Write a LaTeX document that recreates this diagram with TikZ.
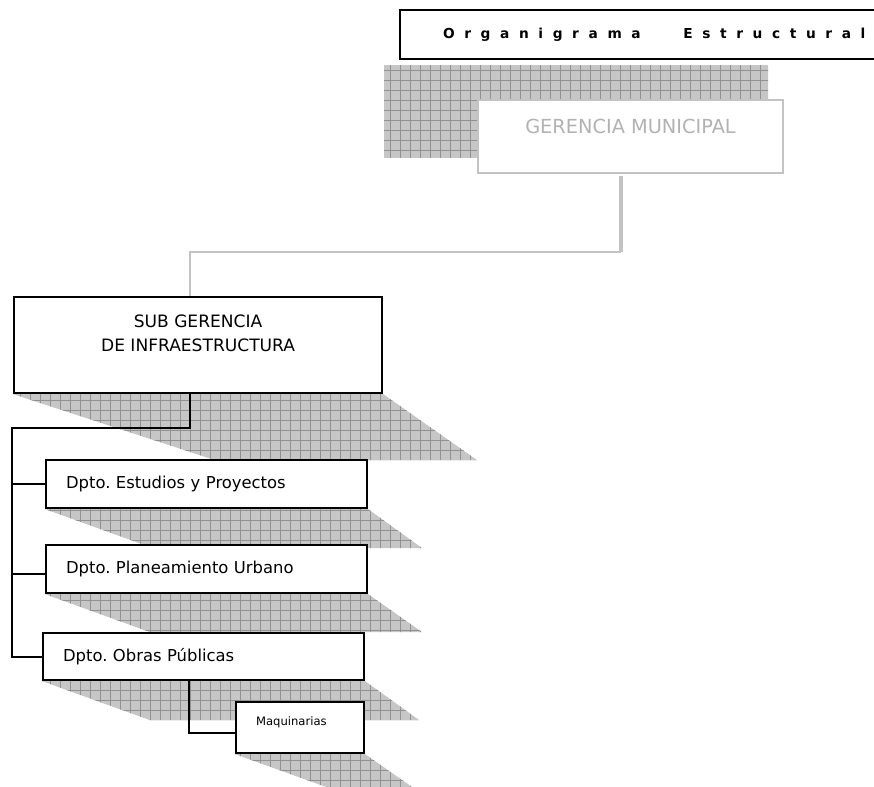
\documentclass[tikz,border=0pt]{standalone}
\usepackage{fontspec}
\setmainfont{DejaVu Sans}
\newfontfamily\titulofont[LetterSpace=70]{DejaVu Sans}
\usetikzlibrary{positioning,calc,backgrounds}
\frenchspacing

\definecolor{sombrafondo}{RGB}{198,198,198}
\definecolor{sombralinea}{RGB}{145,145,145}
\definecolor{gerenciagris}{RGB}{195,195,195}
\definecolor{gerenciatexto}{RGB}{178,178,178}

\tikzset{
  caja/.style={draw=black, line width=1.6pt, fill=white, anchor=north west, inner sep=0pt},
  depto/.style={caja, minimum width=240.75pt, minimum height=36pt, text width=210.75pt,
    inner xsep=15pt, align=left, font=\fontsize{12.3}{15}\selectfont},
  conector/.style={line width=1.4pt, black},
  gerlinea/.style={gerenciagris},
}

% hatched shadow behind a box
\newcommand{\sombra}[1]{%
  \begin{scope}
    \clip #1;
    \fill[sombrafondo] (0,0) rectangle (874,787);
    \draw[sombralinea, line width=0.5pt, step=7.5pt] (0,0) grid (874,787);
  \end{scope}}

\begin{document}
\begin{tikzpicture}[x=0.75pt, y=-0.75pt]
    \useasboundingbox (0,0) rectangle (874,787);

    % Title
    \node[caja, minimum width=368.25pt, minimum height=36.75pt, text width=303.75pt,
      inner xsep=32.25pt, align=left, font=\fontsize{10.3}{12}\selectfont] (tit) at (399,9)
      {\titulofont\bfseries Organigrama\hspace{32pt}Estructural};

    % Boxes
    \node[caja, draw=gerenciagris, line width=1.5pt, minimum width=228.75pt, minimum height=54.75pt,
      align=center, text=gerenciatexto, font=\fontsize{14.5}{16}\selectfont] (ger) at (477,99)
      {GERENCIA MUNICIPAL\\\mbox{}};
    \node[caja, minimum width=276pt, minimum height=72pt, align=center,
      font=\fontsize{12.8}{18}\selectfont] (sg) at (13,296)
      {SUB GERENCIA\\DE INFRAESTRUCTURA\\\mbox{}};
    \node[depto] (ep) at (45,459) {Dpto. Estudios y Proyectos};
    \node[depto] (pu) at (45,544) {Dpto. Planeamiento Urbano};
    \node[depto, minimum height=35.25pt] (op) at (42,632) {Dpto. Obras Públicas};
    \node[caja, minimum width=96pt, minimum height=38.25pt, text width=66pt, inner xsep=15pt,
      align=left, font=\fontsize{8.7}{9}\selectfont] (maq) at (235,701) {Maquinarias\\\mbox{}};

    % Shadows
    \begin{pgfonlayer}{background}
        \sombra{($(ger.north west)+(-93,-33)$) rectangle ($(ger.south east)+(-16,-16)$)}
        \sombra{(sg.south west) -- (sg.south east) -- ++(94,66) -- ($(sg.south west)+(202,66)$) -- cycle}
        \foreach \c/\dx/\dy in {ep/108/39, pu/105/38, op/108/39} {
            \sombra{(\c.south west) -- (\c.south east) -- ++(54,\dy) -- ($(\c.south west)+(\dx,\dy)$) -- cycle}
        }
        \sombra{(maq.south west) -- (maq.south east) -- ++(50,35) -- ($(maq.south west)+(97,35)$) -- cycle}
    \end{pgfonlayer}

    % Connectors
    \coordinate (bajada) at ($(ger.south west)+(144,2)$);
    \draw[gerlinea, line width=3pt] (bajada) -- ++(0,76) coordinate (codo);
    \draw[gerlinea, line width=1.5pt] (codo) -| ($(sg.north)+(-8,0)$);

    \coordinate (tronco) at (12,428);
    \draw[conector] ($(sg.south)+(-8,0)$) |- (tronco) |- (op.west);
    \draw[conector] (tronco |- ep.west) -- (ep.west);
    \draw[conector] ($(tronco |- pu.west)+(0,5)$) -- ($(pu.west)+(0,5)$);
    \draw[conector] ($(op.south)+(-15,0)$) |- ($(maq.west)+(0,5)$);
\end{tikzpicture}
\end{document}
